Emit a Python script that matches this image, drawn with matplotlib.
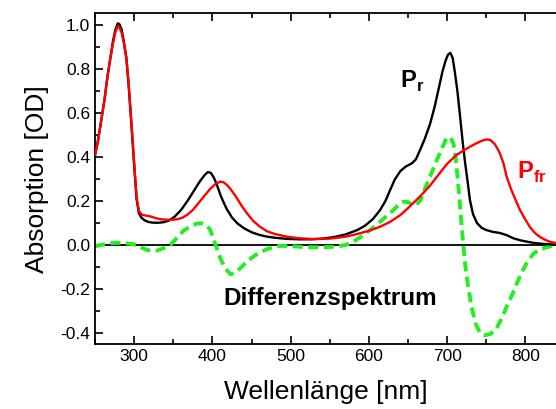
import numpy as np
import matplotlib
matplotlib.use('Agg')
import matplotlib.pyplot as plt

plt.rcParams['font.family'] = ['Liberation Sans', 'DejaVu Sans']
plt.rcParams['mathtext.fontset'] = 'custom'
plt.rcParams['mathtext.rm'] = 'Liberation Sans'
plt.rcParams['mathtext.bf'] = 'Liberation Sans:bold'

# Pr spectrum (black)
pr_nm = [250, 254, 258, 262, 266, 270, 273, 276, 279, 281, 284, 287, 290, 293, 296,
         300, 303, 306, 309, 313, 318, 323, 330, 338, 345, 352, 360, 368, 376, 384,
         390, 394, 398, 402, 406, 411, 418, 425, 432, 440, 450, 460, 470, 480, 495,
         510, 525, 540, 555, 570, 585, 595, 605, 614, 621, 627, 633, 640, 647, 655,
         660, 665, 671, 678, 684, 689, 694, 698, 701, 704, 707, 710, 713, 716, 720,
         723, 726, 729, 733, 738, 744, 750, 758, 767, 776, 785, 795, 810, 825, 840]
pr_od = [0.41, 0.48, 0.57, 0.66, 0.77, 0.86, 0.93, 0.98, 1.008, 1.005, 0.98, 0.92,
         0.85, 0.72, 0.57, 0.36, 0.21, 0.145, 0.125, 0.113, 0.105, 0.102, 0.101, 0.104,
         0.112, 0.13, 0.16, 0.20, 0.245, 0.29, 0.318, 0.332, 0.328, 0.305, 0.27, 0.22,
         0.165, 0.125, 0.098, 0.077, 0.058, 0.046, 0.038, 0.033, 0.028, 0.026, 0.026,
         0.029, 0.036, 0.048, 0.068, 0.088, 0.118, 0.158, 0.2, 0.25, 0.298, 0.336, 0.357,
         0.372, 0.39, 0.43, 0.48, 0.55, 0.63, 0.71, 0.79, 0.84, 0.866, 0.874, 0.85, 0.78,
         0.70, 0.60, 0.46, 0.37, 0.29, 0.205, 0.14, 0.1, 0.078, 0.068, 0.06, 0.055,
         0.045, 0.03, 0.02, 0.01, 0.004, 0.002]

# Pfr spectrum (red)
pfr_nm = [250, 254, 258, 262, 266, 270, 273, 276, 279, 281, 284, 287, 290, 293, 296,
          300, 303, 306, 310, 315, 321, 328, 334, 342, 349, 356, 362, 368, 375, 382,
          390, 397, 404, 410, 414, 419, 424, 430, 437, 444, 452, 460, 470, 480, 495,
          510, 529, 550, 570, 585, 601, 614, 627, 640, 652, 665, 678, 690, 700, 712,
          720, 729, 737, 744, 750, 755, 761, 767, 772, 776, 782, 788, 793, 800, 806,
          812, 818, 825, 831, 840]
pfr_od = [0.41, 0.48, 0.57, 0.66, 0.77, 0.86, 0.92, 0.97, 0.995, 0.99, 0.965, 0.915,
          0.85, 0.73, 0.58, 0.37, 0.22, 0.155, 0.137, 0.134, 0.13, 0.122, 0.117, 0.115,
          0.115, 0.118, 0.125, 0.138, 0.16, 0.19, 0.225, 0.255, 0.278, 0.288, 0.286, 0.272,
          0.25, 0.22, 0.18, 0.145, 0.11, 0.085, 0.062, 0.05, 0.038, 0.031, 0.027, 0.029,
          0.038, 0.05, 0.066, 0.083, 0.105, 0.136, 0.175, 0.22, 0.27, 0.325, 0.37, 0.41,
          0.428, 0.447, 0.462, 0.474, 0.48, 0.478, 0.458, 0.42, 0.37, 0.31, 0.25, 0.2,
          0.159, 0.115, 0.08, 0.055, 0.038, 0.024, 0.015, 0.008]

# Differenzspektrum (green, dashed)
diff_nm = [250, 262, 270, 278, 288, 299, 308, 316, 323, 329, 337, 346, 354, 363, 372,
           380, 387, 393, 397, 401, 405, 410, 416, 423, 430, 437, 444, 452, 460, 469,
           477, 486, 500, 520, 540, 557, 570, 580, 593, 604, 614, 622, 630, 637, 644,
           650, 656, 661, 666, 672, 679, 686, 692, 699, 704, 708, 711, 714, 717, 720,
           723, 726, 731, 736, 742, 748, 755, 763, 770, 776, 785, 793, 801, 810, 818,
           827, 835, 840]
diff_od = [-0.005, 0.003, 0.008, 0.01, 0.008, 0.004, -0.01, -0.022, -0.027, -0.025,
           -0.015, 0.0, 0.03, 0.065, 0.085, 0.098, 0.098, 0.088, 0.07, 0.03, -0.01,
           -0.06, -0.105, -0.133, -0.125, -0.1, -0.075, -0.053, -0.035, -0.02, -0.01,
           -0.004, -0.005, -0.01, -0.01, -0.008, 0.0, 0.015, 0.045, 0.075, 0.105, 0.13,
           0.155, 0.18, 0.197, 0.195, 0.182, 0.184, 0.205, 0.26, 0.32, 0.38, 0.43, 0.485,
           0.49, 0.46, 0.39, 0.28, 0.15, 0.02, -0.09, -0.17, -0.28, -0.355, -0.40, -0.41,
           -0.405, -0.38, -0.33, -0.28, -0.21, -0.14, -0.085, -0.04, -0.02, -0.01, -0.003,
           0.0]

fig = plt.figure(figsize=(5.56, 4.09), dpi=100)
ax = fig.add_axes([0.171, 0.159, 0.829, 0.808])

ax.axhline(0, color='black', lw=1.3, zorder=1)
ax.plot(diff_nm, diff_od, color='#22ee22', lw=2.8, ls=(0, (2.6, 1.4)), zorder=2)
ax.plot(pr_nm, pr_od, color='black', lw=1.7, zorder=3)
ax.plot(pfr_nm, pfr_od, color='#ff0000', lw=1.7, zorder=4)

ax.set_xlim(250, 839)
ax.set_ylim(-0.45, 1.053)
ax.set_xticks([300, 400, 500, 600, 700, 800])
ax.set_xticks(np.arange(250, 840, 50), minor=True)
ax.set_yticks([-0.4, -0.2, 0.0, 0.2, 0.4, 0.6, 0.8, 1.0])
ax.set_yticklabels(['-0.4', '-0.2', '0.0', '0.2', '0.4', '0.6', '0.8', '1.0'])
ax.set_yticks(np.arange(-0.4, 1.05, 0.1), minor=True)
ax.tick_params(which='both', direction='in', top=True, right=False, width=1.2,
               labelsize=12.5, colors='black')
ax.tick_params(which='major', length=6)
ax.tick_params(which='minor', length=3.5)
ax.spines['right'].set_visible(False)
for s in ['left', 'bottom', 'top']:
    ax.spines[s].set_linewidth(1.3)

ax.set_xlabel('Wellenlänge [nm]', fontsize=19, labelpad=12)
ax.set_ylabel('Absorption [OD]', fontsize=19, labelpad=8)

ax.text(640, 0.717, r'$\mathbf{P}_{\mathbf{r}}$', fontsize=17, color='black')
ax.text(789, 0.30, r'$\mathbf{P}_{\mathbf{fr}}$', fontsize=17, color='#ff0000')
ax.text(414, -0.273, 'Differenzspektrum', fontsize=17.5, fontweight='bold')

fig.savefig('out.png', dpi=100)
